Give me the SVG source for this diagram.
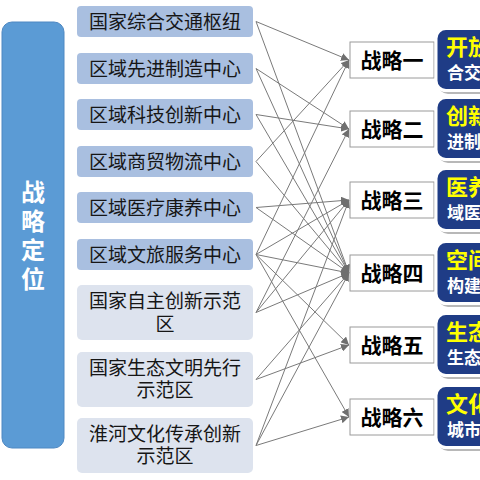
<svg xmlns="http://www.w3.org/2000/svg" width="480" height="480" viewBox="0 0 480 480">
<style>
.pos{fill:#a9bfe0}
.pos2{fill:#dde3ee}
.t{font-family:"Noto Sans CJK SC","Noto Sans",sans-serif;font-size:19px;fill:#161616;text-anchor:middle}
.s rect{fill:#ffffff;stroke:#9a9a9a;stroke-width:1}
.s text{font-family:"Noto Sans CJK SC","Noto Sans",sans-serif;font-size:21px;font-weight:bold;fill:#000;text-anchor:middle}
.r .sh{fill:#b8b8b8}
.r .bx{fill:#1f3c86;stroke:#ffffff;stroke-width:3}
.r .y{font-family:"Noto Sans CJK SC","Noto Sans",sans-serif;font-size:22px;font-weight:bold;fill:#ffff00}
.r .w{font-family:"Noto Sans CJK SC","Noto Sans",sans-serif;font-size:17px;font-weight:bold;fill:#ffffff}
#connectors line{stroke:#7a7a7a;stroke-width:1;marker-end:url(#arr)}
</style>
<defs>
<marker id="arr" viewBox="0 0 10 10" refX="10" refY="5" markerWidth="8" markerHeight="8" markerUnits="userSpaceOnUse" orient="auto">
<path d="M0,0 L10,5 L0,10 z" fill="#6f6f6f"/>
</marker>
</defs>
<rect width="480" height="480" fill="#ffffff"/>

<g id="side">
<rect x="2" y="22" width="62" height="426" rx="10" fill="#5b9bd5" stroke="#4f88c2" stroke-width="1"/>
<text x="33" y="180" writing-mode="vertical-rl" letter-spacing="5" font-family="'Noto Sans CJK SC','Noto Sans',sans-serif" font-size="24" font-weight="bold" fill="#ffffff">战略定位</text>
</g>

<g id="p1"><rect class="pos" x="77" y="6" width="176" height="31" rx="4"/><text class="t" x="165" y="28.5">国家综合交通枢纽</text></g>
<g id="p2"><rect class="pos" x="77" y="53" width="176" height="31" rx="4"/><text class="t" x="165" y="75.5">区域先进制造中心</text></g>
<g id="p3"><rect class="pos" x="77" y="99" width="176" height="31" rx="4"/><text class="t" x="165" y="121.5">区域科技创新中心</text></g>
<g id="p4"><rect class="pos" x="77" y="146" width="176" height="31" rx="4"/><text class="t" x="165" y="168.5">区域商贸物流中心</text></g>
<g id="p5"><rect class="pos" x="77" y="192" width="176" height="31" rx="4"/><text class="t" x="165" y="214.5">区域医疗康养中心</text></g>
<g id="p6"><rect class="pos" x="77" y="239" width="176" height="31" rx="4"/><text class="t" x="165" y="261.5">区域文旅服务中心</text></g>
<g id="p7"><rect class="pos2" x="77" y="285" width="176" height="55" rx="5"/><text class="t" x="165" y="308">国家自主创新示范<tspan x="165" dy="23">区</tspan></text></g>
<g id="p8"><rect class="pos2" x="77" y="352" width="176" height="55" rx="5"/><text class="t" x="165" y="375">国家生态文明先行<tspan x="165" dy="22">示范区</tspan></text></g>
<g id="p9"><rect class="pos2" x="77" y="418" width="176" height="55" rx="5"/><text class="t" x="165" y="441">淮河文化传承创新<tspan x="165" dy="22">示范区</tspan></text></g>

<g id="connectors">
<line x1="256" y1="21.5" x2="349" y2="60"/>
<line x1="256" y1="21.5" x2="349" y2="273"/>
<line x1="256" y1="68.5" x2="349" y2="129"/>
<line x1="256" y1="68.5" x2="349" y2="273"/>
<line x1="256" y1="114.5" x2="349" y2="129"/>
<line x1="256" y1="114.5" x2="349" y2="273"/>
<line x1="256" y1="161.5" x2="349" y2="60"/>
<line x1="256" y1="161.5" x2="349" y2="273"/>
<line x1="256" y1="207.5" x2="349" y2="200"/>
<line x1="256" y1="207.5" x2="349" y2="273"/>
<line x1="256" y1="254.5" x2="349" y2="60"/>
<line x1="256" y1="254.5" x2="349" y2="200"/>
<line x1="256" y1="254.5" x2="349" y2="273"/>
<line x1="256" y1="254.5" x2="349" y2="345"/>
<line x1="256" y1="254.5" x2="349" y2="417"/>
<line x1="256" y1="312.5" x2="349" y2="129"/>
<line x1="256" y1="312.5" x2="349" y2="200"/>
<line x1="256" y1="312.5" x2="349" y2="273"/>
<line x1="256" y1="379.5" x2="349" y2="273"/>
<line x1="256" y1="379.5" x2="349" y2="345"/>
<line x1="256" y1="445.5" x2="349" y2="200"/>
<line x1="256" y1="445.5" x2="349" y2="273"/>
<line x1="256" y1="445.5" x2="349" y2="417"/>
</g>

<g id="s1" class="s"><rect x="350" y="42" width="84" height="36"/><text x="392" y="67.5">战略一</text></g>
<g id="s2" class="s"><rect x="350" y="111" width="84" height="36"/><text x="392" y="136.5">战略二</text></g>
<g id="s3" class="s"><rect x="350" y="182" width="84" height="36"/><text x="392" y="207.5">战略三</text></g>
<g id="s4" class="s"><rect x="350" y="255" width="84" height="36"/><text x="392" y="280.5">战略四</text></g>
<g id="s5" class="s"><rect x="350" y="327" width="84" height="36"/><text x="392" y="352.5">战略五</text></g>
<g id="s6" class="s"><rect x="350" y="399" width="84" height="36"/><text x="392" y="424.5">战略六</text></g>

<g id="r1" class="r"><rect class="sh" x="438" y="31" width="60" height="63" rx="10"/><rect class="bx" x="436" y="28.5" width="60" height="62" rx="10"/><text class="y" x="446" y="55">开放</text><text class="w" x="447" y="79">合交</text></g>
<g id="r2" class="r"><rect class="sh" x="438" y="100" width="60" height="63" rx="10"/><rect class="bx" x="436" y="97.5" width="60" height="62" rx="10"/><text class="y" x="446" y="124">创新</text><text class="w" x="447" y="148">进制</text></g>
<g id="r3" class="r"><rect class="sh" x="438" y="171" width="60" height="63" rx="10"/><rect class="bx" x="436" y="168.5" width="60" height="62" rx="10"/><text class="y" x="446" y="195">医养</text><text class="w" x="447" y="219">域医</text></g>
<g id="r4" class="r"><rect class="sh" x="438" y="244" width="60" height="63" rx="10"/><rect class="bx" x="436" y="241.5" width="60" height="62" rx="10"/><text class="y" x="446" y="268">空间</text><text class="w" x="447" y="292">构建</text></g>
<g id="r5" class="r"><rect class="sh" x="438" y="316" width="60" height="63" rx="10"/><rect class="bx" x="436" y="313.5" width="60" height="62" rx="10"/><text class="y" x="446" y="340">生态</text><text class="w" x="447" y="364">生态</text></g>
<g id="r6" class="r"><rect class="sh" x="438" y="388" width="60" height="63" rx="10"/><rect class="bx" x="436" y="385.5" width="60" height="62" rx="10"/><text class="y" x="446" y="412">文化</text><text class="w" x="447" y="436">城市</text></g>
</svg>
